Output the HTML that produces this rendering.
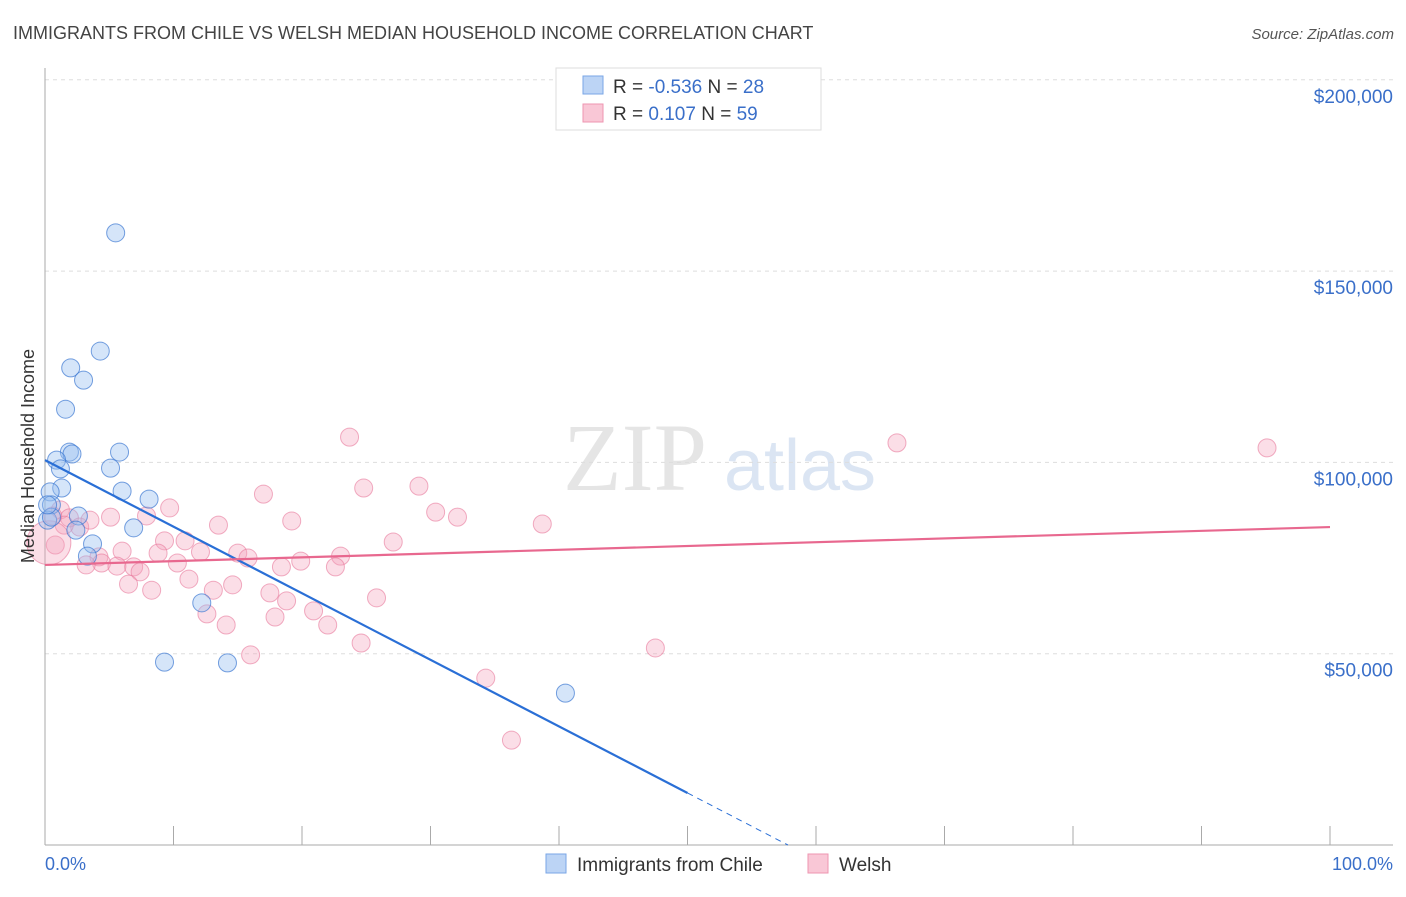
<!DOCTYPE html>
<html><head><meta charset="utf-8"><style>
body{margin:0;background:#fff;font-family:"Liberation Sans",sans-serif}
</style></head><body>
<svg width="1406" height="892" xmlns="http://www.w3.org/2000/svg" font-family="Liberation Sans, sans-serif">
<text x="13" y="39" font-size="18" fill="#444">IMMIGRANTS FROM CHILE VS WELSH MEDIAN HOUSEHOLD INCOME CORRELATION CHART</text>
<text x="1394" y="39" font-size="15" fill="#555" text-anchor="end" font-style="italic">Source: ZipAtlas.com</text>
<g opacity="0.5"><text x="635" y="490" font-size="96" fill="#ccc" text-anchor="middle" font-family="Liberation Serif, serif">ZIP</text><text x="800" y="490" font-size="72" fill="#b8cde8" text-anchor="middle">atlas</text></g>
<g id="grid"></g><g id="axes"></g><g id="marks"></g>
<text transform="translate(34,456) rotate(-90)" font-size="18" fill="#333" text-anchor="middle">Median Household Income</text>
<text x="45" y="870" font-size="18" fill="#3a6fc9">0.0%</text>
<text x="1393" y="870" font-size="18" fill="#3a6fc9" text-anchor="end">100.0%</text>
<g>
<rect x="556" y="68" width="265" height="62" fill="#fff" stroke="#ddd"/>
<rect x="583" y="76" width="20" height="18" fill="#bcd4f5" stroke="#7aa6e6"/>
<rect x="583" y="104" width="20" height="18" fill="#f9c7d6" stroke="#ee95b0"/>
<text x="613" y="93" font-size="19" fill="#333">R = <tspan fill="#3a6fc9">-0.536</tspan>   N = <tspan fill="#3a6fc9">28</tspan></text>
<text x="613" y="120" font-size="19" fill="#333">R =   <tspan fill="#3a6fc9">0.107</tspan>   N = <tspan fill="#3a6fc9">59</tspan></text>
</g>
<g>
<rect x="546" y="854" width="20" height="19" fill="#bcd4f5" stroke="#7aa6e6"/>
<text x="577" y="871" font-size="19" fill="#333">Immigrants from Chile</text>
<rect x="808" y="854" width="20" height="19" fill="#f9c7d6" stroke="#ee95b0"/>
<text x="839" y="871" font-size="19" fill="#333">Welsh</text>
</g>
</svg>
<script>
const yTicks=[50,100,150,200];
const yTickLabels=["$50,000","$100,000","$150,000","$200,000"];
const blueX=[5.5,4.3,2.0,3.0,1.6,1.9,2.1,5.8,0.9,1.2,5.1,1.3,6.0,8.1,0.4,0.5,2.6,0.2,0.5,2.4,6.9,3.7,3.3,12.2,9.3,14.2,40.5,0.2];
const blueY=[160.0,129.1,124.7,121.5,113.9,102.7,102.2,102.7,100.6,98.3,98.5,93.3,92.5,90.4,92.3,88.9,86.0,84.9,85.7,82.3,82.9,78.7,75.5,63.3,47.8,47.6,39.7,88.9];
const pinkX=[23.7,66.3,95.1,24.8,29.1,17.0,30.4,32.1,19.2,38.7,9.7,7.9,5.1,13.5,27.1,9.3,10.9,12.1,8.8,6.0,15.0,15.8,23.0,19.9,18.4,22.6,4.2,4.4,3.2,5.6,6.9,7.4,10.3,11.2,6.5,8.3,14.6,13.1,17.5,18.8,25.8,20.9,12.6,17.9,14.1,22.0,24.6,16.0,47.5,34.3,36.3,1.2,1.9,2.7,3.5,1.5,0.8,0.3,0.6];
const pinkY=[106.6,105.1,103.8,93.3,93.8,91.7,87.0,85.7,84.7,83.9,88.1,86.0,85.7,83.6,79.2,79.5,79.5,76.6,76.3,76.8,76.3,75.0,75.5,74.2,72.7,72.7,75.3,73.7,73.2,72.9,72.7,71.4,73.7,69.5,68.2,66.6,68.0,66.6,65.9,63.8,64.6,61.2,60.4,59.6,57.5,57.5,52.8,49.7,51.5,43.6,27.4,87.6,85.5,83.1,84.9,83.6,78.4,79.0,86.0];
const blueFit=[100.6,-1.74];
const pinkFit=[73.2,0.099];
const NS="http://www.w3.org/2000/svg";
const sx=v=>45+v*12.85, sy=v=>845-v*3.826;
function mk(p,t,a){const e=document.createElementNS(NS,t);for(const k in a)e.setAttribute(k,a[k]);document.getElementById(p).appendChild(e);return e;}
yTicks.forEach((t,i)=>{
 let l=mk('grid','line',{x1:45,x2:1393,y1:sy(t),y2:sy(t),stroke:'#ddd','stroke-dasharray':'4,4'});
 
 
 let tx=mk('grid','text',{x:1393,y:sy(t)+23,'font-size':19,fill:'#3a6fc9','text-anchor':'end'});tx.textContent=yTickLabels[i];
 
 
});
let ax=mk('axes','line',{x1:45,x2:45,y1:68,y2:845,stroke:'#aaa'});


let bx=mk('axes','line',{x1:45,x2:1393,y1:845,y2:845,stroke:'#aaa'});


for(let i=0;i<=10;i++){let t=mk('axes','line',{x1:sx(i*10),x2:sx(i*10),y1:826,y2:845,stroke:'#aaa'});
 
 }
pinkX.forEach((x,i)=>{let c=mk('marks','circle',{cx:sx(x),cy:sy(pinkY[i]),r:i==57?22:9,fill:'rgba(244,160,185,0.35)',stroke:'rgba(232,120,155,0.6)'});
 
 });
blueX.forEach((x,i)=>{let c=mk('marks','circle',{cx:sx(x),cy:sy(blueY[i]),r:9,fill:'rgba(150,190,240,0.4)',stroke:'rgba(60,120,210,0.7)'});
 
 });
const bEnd=50, bZero=-blueFit[0]/blueFit[1];
let bl=mk('marks','line',{x1:sx(0),y1:sy(blueFit[0]),x2:sx(bEnd),y2:sy(blueFit[0]+blueFit[1]*bEnd),stroke:'#2a6fd6','stroke-width':2.2});


let bd=mk('marks','line',{x1:sx(bEnd),y1:sy(blueFit[0]+blueFit[1]*bEnd),x2:sx(bZero),y2:sy(0),stroke:'#2a6fd6','stroke-width':1,'stroke-dasharray':'6,5'});


let pl=mk('marks','line',{x1:sx(0),y1:sy(pinkFit[0]),x2:sx(100),y2:sy(pinkFit[0]+pinkFit[1]*100),stroke:'#e8688f','stroke-width':2.2});


</script>
</body></html>
